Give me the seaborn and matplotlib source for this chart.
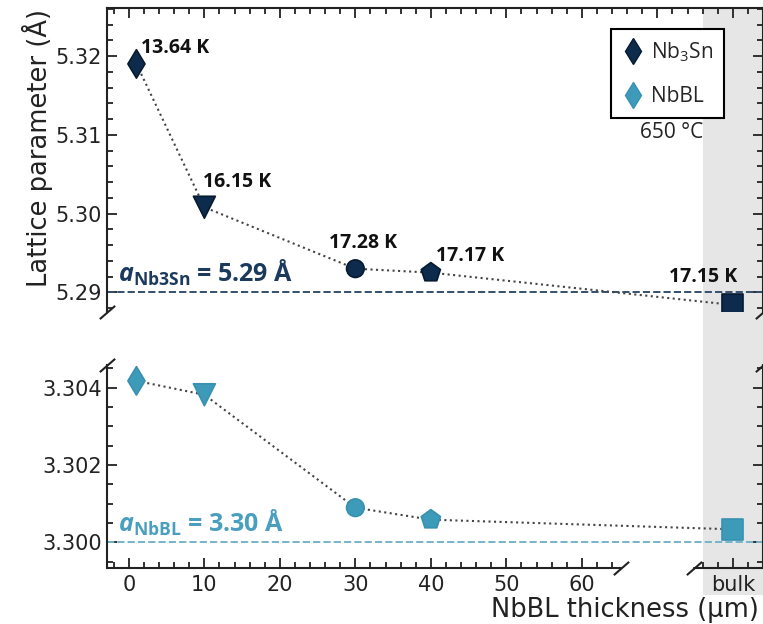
import numpy as np
import pandas as pd
import matplotlib.pyplot as plt
import matplotlib.ticker as mticker
from matplotlib.patches import Rectangle
from matplotlib.lines import Line2D
import seaborn as sns

# data
thickness = [1, 10, 30, 40]          # NbBL thickness (um), plus the bulk sample
tick_labels = ['0', '10', '20', '30', '40', '50', '60', 'bulk']
nb3sn_a = [5.3190, 5.3008, 5.2930, 5.2925, 5.2884]
nbbl_a = [3.30418, 3.30382, 3.30090, 3.30059, 3.30034]
tc_labels = ['13.64 K', '16.15 K', '17.28 K', '17.17 K', '17.15 K']
nb3sn_ref = 5.29
nbbl_ref = 3.30

# styling
bulk_x = 80
xs = thickness + [bulk_x]
shapes = ['d', 'v', 'o', 'p', 's']
areas = [210, 250, 160, 210, 225]
navy = '#0d2b4c'
teal = '#3d9ab9'
tc_offsets = [(5, 11), (-1, 20), (-26, 21), (5, 12), (-64, 23)]  # pixels

sns.set_style('white')
plt.rcParams['font.family'] = ['DejaVu Sans']
plt.rcParams['mathtext.fontset'] = 'custom'
plt.rcParams['mathtext.rm'] = 'Open Sans'
plt.rcParams['mathtext.bf'] = 'Open Sans:bold'
plt.rcParams['mathtext.it'] = 'Open Sans:italic'
plt.rcParams['mathtext.bfit'] = 'Open Sans:italic:bold'

fig = plt.figure(figsize=(7.63, 6.24), dpi=100)
fig.patch.set_facecolor('white')
ax_top = fig.add_axes([107/763, 0.5, 656/763, 304/624])
ax_bot = fig.add_axes([107/763, 56/624, 656/763, 203/624])

# grey band behind the bulk sample
fig.patches.append(Rectangle((703/763, 29/624), 60/763, 587/624, transform=fig.transFigure,
                             facecolor='#e6e6e6', edgecolor='none', zorder=-1))

xlim = (-2.9, 84.0)
for ax, vals, color, ec in [(ax_top, nb3sn_a, navy, '#061a30'), (ax_bot, nbbl_a, teal, '#3891b0')]:
    ax.set_facecolor('none')
    df = pd.DataFrame({'x': xs, 'a': vals, 'shape': shapes})
    sns.lineplot(data=df, x='x', y='a', ax=ax, color='#444444', linestyle=':', linewidth=1.5,
                 sort=False, zorder=2)
    sns.scatterplot(data=df, x='x', y='a', style='shape', markers={m: m for m in shapes},
                    size='shape', sizes=dict(zip(shapes, areas)), color=color, edgecolor=ec,
                    linewidth=1.2, legend=False, ax=ax, zorder=3)
    ax.set_xlim(*xlim)
    ax.set_xlabel('')
    ax.set_ylabel('')
    for s in ax.spines.values():
        s.set_linewidth(1.5)
        s.set_color('#222222')
    ax.tick_params(which='both', direction='in', left=True, right=True, colors='#222222',
                   labelsize=15, width=1.3)
    ax.tick_params(which='major', length=7)
    ax.tick_params(which='minor', length=4)

# top panel: Nb3Sn
ax_top.set_ylim(5.2875, 5.3261)
ax_top.spines['bottom'].set_visible(False)
ax_top.xaxis.set_major_locator(mticker.MultipleLocator(10))
ax_top.xaxis.set_minor_locator(mticker.MultipleLocator(2))
ax_top.tick_params(axis='x', which='both', top=True, bottom=False, labelbottom=False, labeltop=False)
ax_top.yaxis.set_major_locator(mticker.MultipleLocator(0.01))
ax_top.yaxis.set_minor_locator(mticker.MultipleLocator(0.002))
ax_top.yaxis.set_major_formatter(mticker.FormatStrFormatter('%.2f'))
ax_top.axhline(nb3sn_ref, color='#34506e', linestyle='--', linewidth=1.4, zorder=1)
ax_top.text(-1.46, 5.2913, r'$\mathbfit{a}_{\mathbf{Nb3Sn}}$ = 5.29 Å', color='#1b3a5c',
            fontsize=18, fontweight='bold', family='Open Sans', va='baseline', ha='left')
for x, y, lab, (dx, dy) in zip(xs, nb3sn_a, tc_labels, tc_offsets):
    ax_top.annotate(lab, (x, y), xytext=(dx, dy), textcoords='offset pixels', ha='left',
                    va='baseline', fontsize=14, fontweight='bold', family='Open Sans',
                    color='#111111')

handles = [Line2D([], [], marker='d', linestyle='none', markersize=13, color=navy, mec='#061a30'),
           Line2D([], [], marker='d', linestyle='none', markersize=13, color=teal, mec='#3891b0')]
leg = ax_top.legend(handles, ['Nb$_3$Sn', 'NbBL'], loc='upper left',
                    bbox_to_anchor=(504/656, 1 - 21/304), borderaxespad=0, fancybox=False,
                    framealpha=1, edgecolor='black', handlelength=1.0, handletextpad=0.35,
                    labelspacing=1.05, borderpad=0.55, prop={'family': 'Open Sans', 'size': 15})
leg.get_frame().set_linewidth(1.5)
fig.text(672/763, 1 - 133/624, '650 °C', family='Open Sans', fontsize=15, ha='center',
         va='center', color='#222222')

# bottom panel: NbBL
ax_bot.set_ylim(3.29934, 3.30459)
ax_bot.spines['top'].set_visible(False)
ax_bot.spines['bottom'].set_visible(False)
ax_bot.xaxis.set_major_locator(mticker.FixedLocator([0, 10, 20, 30, 40, 50, 60, bulk_x]))
ax_bot.xaxis.set_major_formatter(mticker.FixedFormatter(tick_labels))
minor = [m for m in range(-2, 85, 2) if m % 10 != 0 and not (64 < m < 76)]
ax_bot.xaxis.set_minor_locator(mticker.FixedLocator(minor))
ax_bot.tick_params(axis='x', which='both', top=False, bottom=True, pad=5)
ax_bot.yaxis.set_major_locator(mticker.MultipleLocator(0.002))
ax_bot.yaxis.set_minor_locator(mticker.MultipleLocator(0.0005))
ax_bot.yaxis.set_major_formatter(mticker.FormatStrFormatter('%.3f'))
ax_bot.axhline(nbbl_ref, color='#76b4ca', linestyle='--', linewidth=1.4, zorder=1)
ax_bot.text(-1.46, 3.30028, r'$\mathbfit{a}_{\mathbf{NbBL}}$ = 3.30 Å', color='#4a9fbe',
            fontsize=18, fontweight='bold', family='Open Sans', va='baseline', ha='left')

# broken x spine and break marks
tr = ax_bot.get_xaxis_transform()
ax_bot.plot([xlim[0], 65.2], [0, 0], color='#222222', lw=1.5, transform=tr, clip_on=False)
ax_bot.plot([74.8, xlim[1]], [0, 0], color='#222222', lw=1.5, transform=tr, clip_on=False)
brk = dict(marker=[(-1, -0.87), (1, 0.87)], markersize=11, linestyle='none', color='#222222',
           mec='#222222', mew=1.5, clip_on=False)
ax_bot.plot([65.2, 74.8], [0, 0], transform=tr, **brk)
ax_top.plot([0, 1], [0, 0], transform=ax_top.transAxes, **brk)
ax_bot.plot([0, 1], [1, 1], transform=ax_bot.transAxes, **brk)

fig.text(37/763, 1 - 148/624, 'Lattice parameter (Å)', rotation=90, fontsize=18.5,
         ha='center', va='center', color='#222222')
fig.text(491/763, 1 - 617/624, 'NbBL thickness (µm)', fontsize=18.5, ha='left',
         va='baseline', color='#222222')

fig.savefig('out.png', dpi=100)
